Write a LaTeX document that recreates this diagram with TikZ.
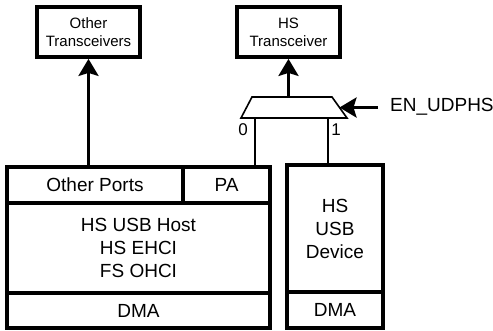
\documentclass[tikz,border=0pt]{standalone}
\usepackage{fontspec}
\setmainfont{Liberation Sans}
\usetikzlibrary{arrows.meta,calc}

\begin{document}
\begin{tikzpicture}[x=1pt, y=-1pt, >={Stealth[length=17pt,width=20pt,inset=3pt]},
    every node/.style={font=\fontsize{19}{23}\selectfont},
    cell/.style={draw, line width=3.2pt, inner sep=0pt, align=center},
    xcvr/.style={cell, line width=3.8pt, minimum width=103pt, minimum height=50pt, font=\fontsize{15}{18}\selectfont},
    lbl/.style={inner sep=0pt, font=\fontsize{17}{18}\selectfont},
    bus/.style={line width=3pt, ->},
    wire/.style={line width=1.6pt}]
\useasboundingbox (0,0) rectangle (493,330);
% transceivers
\node[xcvr] (othx) at (88.5,32) {Other\\Transceivers};
\node[xcvr] (hsx) at (288.5,32) {HS\\Transceiver};
% host controller
\node[cell, minimum width=176pt, minimum height=36pt] (ports) at (95,185) {Other Ports};
\node[cell, minimum width=87pt, minimum height=36pt] (pa) at (226.5,185) {PA};
\node[cell, minimum width=263pt, minimum height=90pt] (host) at (138.5,248) {HS USB Host\\HS EHCI\\FS OHCI};
\node[cell, minimum width=263pt, minimum height=35pt] (dmah) at (138.5,310.5) {DMA};
% device controller
\node[cell, minimum width=96pt, minimum height=127pt] (dev) at (335,228.5) {HS\\USB\\Device};
\node[cell, minimum width=96pt, minimum height=36pt] (dmad) at (335,310) {DMA};
% mux
\coordinate (muxtl) at (252,97);
\coordinate (muxtr) at (332,97);
\coordinate (muxbr) at (347,118);
\coordinate (muxbl) at (241,118);
\draw[wire, line join=miter] (muxtl) -- (muxtr) -- (muxbr) -- (muxbl) -- cycle;
\coordinate (muxout) at (hsx.south |- muxtl);
\coordinate (muxsel) at ($(muxtr)!0.5!(muxbr)$);
\coordinate (in0) at (255,118);
\coordinate (in1) at (328,118);
\node[anchor=base west, inner sep=0pt] (en) at (390,111.5) {EN\_UDPHS};
\node[lbl] (sel0) at (243,130) {0};
\node[lbl] (sel1) at (336,130) {1};
% connections
\draw[bus] (ports.north -| othx.south) -- (othx.south);
\draw[bus] (muxout) -- (hsx.south);
\draw[bus, shorten <=12pt] (muxsel -| en.west) -- (muxsel);
\draw[wire] (in0) -- (in0 |- pa.north);
\draw[wire] (in1) -- (in1 |- dev.north);
\end{tikzpicture}
\end{document}
